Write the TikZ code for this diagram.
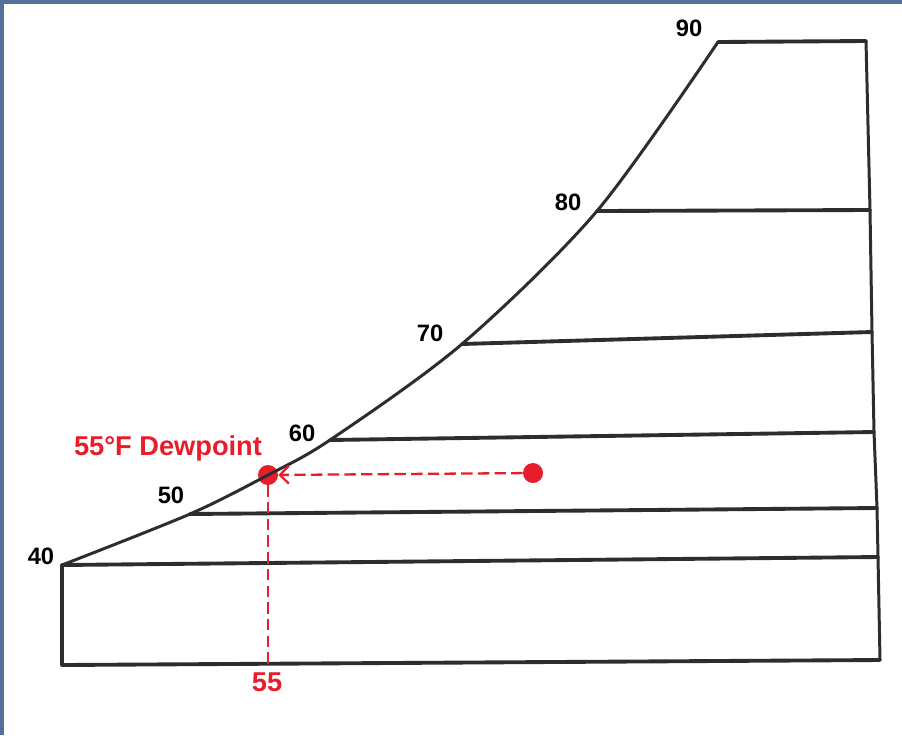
\documentclass[tikz,border=0pt]{standalone}
\usepackage{fontspec}
\setmainfont{Liberation Sans}
\usetikzlibrary{arrows.meta}
\definecolor{slideblue}{RGB}{82,112,152}
\definecolor{chartgray}{RGB}{45,45,45}
\definecolor{dewred}{RGB}{232,28,42}

\begin{document}
\begin{tikzpicture}[x=0.02cm,y=-0.02cm,
  line/.style={draw=chartgray,line width=2.2pt,line join=round,line cap=round},
  edge/.style={draw=chartgray,line width=1.7pt,line join=round},
  temp/.style={font=\fontsize{13.5}{16}\selectfont\bfseries,text=black,inner sep=0pt},
  dewtext/.style={font=\fontsize{15.5}{18}\selectfont\bfseries,text=dewred,inner sep=0pt},
  dot/.style={circle,fill=dewred,minimum size=0.4cm,inner sep=0pt},
  dashline/.style={draw=dewred,line width=1.3pt,dash pattern=on 6.5pt off 3pt}]
\fill[slideblue] (0,0) rectangle (902,735);
\fill[white] (4,4) rectangle (902,735);
\useasboundingbox (0,0) rectangle (902,735);
% saturation curve
\coordinate (c40) at (62,565);
\coordinate (c50) at (190,514);
\coordinate (c60) at (330,440);
\coordinate (c70) at (462,344);
\coordinate (c80) at (597,211);
\coordinate (c90) at (718,42);
% right side
\coordinate (r40) at (878,557);
\coordinate (r50) at (877,508);
\coordinate (r60) at (874,432);
\coordinate (r70) at (872,332);
\coordinate (r80) at (870,210);
\coordinate (r90) at (866,41);
\coordinate (bl) at (62,665);
\coordinate (br) at (880,660);
% red points
\node[dot] (dew) at (268,475) {};
\node[dot] (air) at (533,473) {};
\coordinate (drop) at (268,668);

\draw[edge] plot[smooth,tension=0.5] coordinates {(c40) (c50) (dew.center) (c60) (c70) (c80) (c90)};
\draw[line] (c90) -- (r90);
\draw[edge] (r90) -- (r80) -- (r70) -- (r60) -- (r50) -- (r40) -- (br);
\draw[line] (c40) -- (bl) -- (br);
\draw[line] (c40) -- (r40);
\draw[line] (c50) -- (r50);
\draw[line] (c60) -- (r60);
\draw[line] (c70) -- (r70);
\draw[line] (c80) -- (r80);

\node[temp] (l40) at (41,556) {40};
\node[temp] (l50) at (171,495) {50};
\node[temp] (l60) at (302,433) {60};
\node[temp] (l70) at (430,333) {70};
\node[temp] (l80) at (568,202) {80};
\node[temp] (l90) at (689,28) {90};

\draw[dashline,-{Straight Barb[length=5pt,width=10pt]}] (air) -- (dew);
\draw[dashline] (dew) -- (drop);
\node[dewtext] (dewlbl) at (168,448) {55°F Dewpoint};
\node[dewtext] (t55) at (267,682) {55};
\end{tikzpicture}
\end{document}
